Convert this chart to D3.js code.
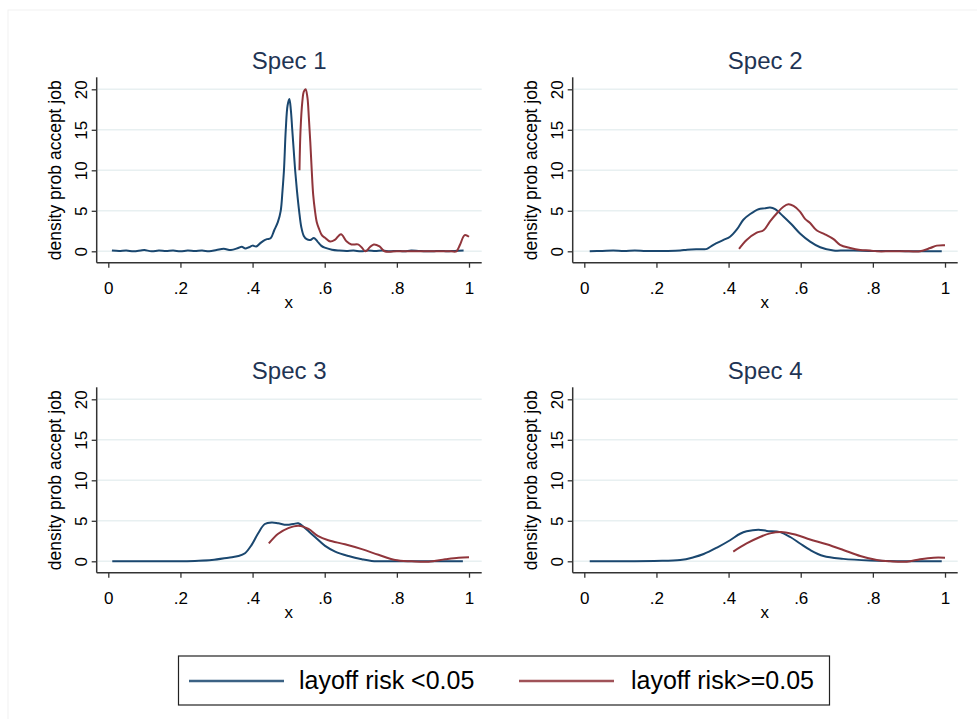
<!DOCTYPE html>
<html>
<head>
<meta charset="utf-8">
<script src="https://cdn.jsdelivr.net/npm/d3@7.9.0/dist/d3.min.js"></script>
<style>
  body { margin: 0; background: #fff; }
  svg { display: block; font-family: "Liberation Sans", Arial, sans-serif; }
</style>
</head>
<body>
<svg id="chart" width="977" height="719"></svg>
<script>
// kernel density estimates
const specTitles = ['Spec 1', 'Spec 2', 'Spec 3', 'Spec 4'];
const seriesLabels = ['layoff risk <0.05', 'layoff risk>=0.05'];
const xTicks = [0, 0.2, 0.4, 0.6, 0.8, 1];
const yTicks = [0, 5, 10, 15, 20];

const spec1LowX = [0.01,0.03,0.05,0.07,0.09,0.10,0.12,0.14,0.16,0.18,0.20,0.22,0.24,0.26,0.28,0.30,0.32,0.34,0.36,0.37,0.38,0.39,0.40,0.41,0.42,0.43,0.44,0.45,0.46,0.47,0.478,0.483,0.487,0.492,0.497,0.502,0.506,0.510,0.514,0.518,0.523,0.529,0.535,0.542,0.55,0.56,0.57,0.58,0.59,0.60,0.62,0.64,0.66,0.68,0.70,0.72,0.74,0.76,0.78,0.80,0.82,0.84,0.86,0.88,0.90,0.92,0.94,0.96,0.985];
const spec1LowY = [0.1,0.05,0.1,0.0,0.1,0.15,0.0,0.1,0.05,0.1,0.0,0.1,0.05,0.1,0.0,0.15,0.3,0.15,0.4,0.55,0.35,0.5,0.7,0.6,0.95,1.3,1.5,1.6,2.6,3.6,5.0,7.5,10.0,15.0,18.0,18.8,17.5,15.0,12.5,10.0,7.5,5.0,3.0,1.9,1.5,1.4,1.65,1.2,0.7,0.45,0.2,0.1,0.05,0.1,0.0,0.1,0.05,0.1,0.0,0.05,0.0,0.1,0.05,0.0,0.0,0.05,0.0,0.05,0.1];
const spec1HighX = [0.530,0.533,0.538,0.542,0.547,0.552,0.556,0.560,0.564,0.568,0.573,0.578,0.584,0.592,0.60,0.615,0.628,0.645,0.661,0.674,0.692,0.702,0.713,0.725,0.736,0.752,0.766,0.80,0.85,0.90,0.95,0.965,0.975,0.988,1.0];
const spec1HighY = [10,15,18.5,19.7,20,19,16.5,13.5,10,7,5,3.6,2.8,2.0,1.7,1.2,1.4,2.1,1.2,0.85,0.85,0.5,0,0.5,0.85,0.6,0,0,0,0,0,0,0.8,2.0,1.8];

const spec2LowX = [0.015,0.05,0.08,0.11,0.14,0.17,0.20,0.23,0.266,0.285,0.31,0.331,0.34,0.358,0.386,0.404,0.423,0.441,0.46,0.483,0.50,0.515,0.529,0.552,0.575,0.598,0.626,0.654,0.691,0.72,0.746,0.80,0.85,0.90,0.95,0.991];
const spec2LowY = [0,0.05,0.1,0.05,0.1,0.05,0.05,0.05,0.1,0.2,0.25,0.25,0.3,0.8,1.4,1.8,2.7,3.9,4.6,5.2,5.3,5.4,5.2,4.3,3.3,2.2,1.2,0.5,0.1,0.1,0.1,0.05,0.05,0,0,0];
const spec2HighX = [0.429,0.45,0.478,0.497,0.515,0.534,0.552,0.566,0.58,0.598,0.612,0.626,0.644,0.667,0.691,0.709,0.737,0.765,0.792,0.811,0.85,0.90,0.931,0.959,0.977,1.0];
const spec2HighY = [0.3,1.4,2.3,2.6,3.7,4.7,5.5,5.8,5.6,4.9,4.0,3.5,2.6,2.1,1.5,0.8,0.4,0.15,0.1,0,0,0,0,0.4,0.7,0.75];

const spec3LowX = [0.011,0.05,0.1,0.15,0.2,0.24,0.287,0.333,0.361,0.379,0.397,0.416,0.434,0.453,0.471,0.494,0.513,0.527,0.545,0.573,0.601,0.629,0.666,0.703,0.73,0.8,0.9,0.983];
const spec3LowY = [0,0,0,0,0,0.05,0.15,0.45,0.65,1.0,2.0,3.5,4.6,4.8,4.7,4.5,4.6,4.7,4.1,3.0,1.9,1.2,0.65,0.25,0.05,0,0,0];
const spec3HighX = [0.445,0.471,0.499,0.527,0.555,0.582,0.61,0.656,0.703,0.749,0.795,0.841,0.888,0.934,0.971,1.0];
const spec3HighY = [2.2,3.4,4.1,4.4,4.0,3.1,2.6,2.1,1.5,0.8,0.15,0,-0.05,0.25,0.45,0.5];

const spec4LowX = [0.015,0.1,0.194,0.266,0.303,0.331,0.368,0.404,0.432,0.45,0.483,0.506,0.543,0.571,0.598,0.626,0.663,0.718,0.792,0.9,0.991];
const spec4LowY = [0,0,0.05,0.15,0.5,0.9,1.7,2.6,3.4,3.7,3.9,3.75,3.6,3.0,2.2,1.4,0.65,0.3,0.1,0,0];
const spec4HighX = [0.413,0.45,0.487,0.515,0.552,0.589,0.626,0.672,0.718,0.765,0.811,0.848,0.894,0.931,0.968,1.0];
const spec4HighY = [1.2,2.2,3.0,3.45,3.6,3.25,2.7,2.1,1.4,0.65,0.15,0,-0.05,0.25,0.45,0.45];

const colors = ['#1a476f', '#90353b'];

const panels = [
  { low: [spec1LowX, spec1LowY], high: [spec1HighX, spec1HighY] },
  { low: [spec2LowX, spec2LowY], high: [spec2HighX, spec2HighY] },
  { low: [spec3LowX, spec3LowY], high: [spec3HighX, spec3HighY] },
  { low: [spec4LowX, spec4LowY], high: [spec4HighX, spec4HighY] },
];

const svg = d3.select('#chart');
svg.append('rect').attr('x', 8).attr('y', 10).attr('width', 977).attr('height', 719)
  .attr('fill', 'none').attr('stroke', '#f1f1f1');

const fmt = (d) => d === 0 ? '0' : d === 1 ? '1' : String(d).replace(/^0/, '');

panels.forEach((p, i) => {
  let ox = (i % 2) * 476;
  let oy = Math.floor(i / 2) * 310;
  let axisLeftX = 96.7, axisRightX = 481.7, axisTopY = 77.3, axisBottomY = 262.7;

  let x = d3.scaleLinear().domain([0, 1]).range([108.3, 469]);
  let y = d3.scaleLinear().domain([0, 20]).range([251.3, 89.3]);

  let g = svg.append('g').attr('transform', `translate(${ox},${oy})`);

  // gridlines
  g.selectAll('line.grid').data(yTicks).join('line')
    .attr('class', 'grid')
    .attr('x1', axisLeftX + 1).attr('x2', axisRightX)
    .attr('y1', (d) => y(d)).attr('y2', (d) => y(d))
    .attr('stroke', '#e8f0f1').attr('stroke-width', 1.5);

  // x axis
  let xa = g.append('g').attr('transform', `translate(0,${axisBottomY})`)
    .call(d3.axisBottom(x).tickValues(xTicks).tickSize(5).tickFormat(fmt));
  xa.select('.domain').remove();
  xa.selectAll('.tick line').attr('stroke', '#333').attr('stroke-width', 1.3);
  xa.selectAll('.tick text').attr('y', 31).attr('dy', null)
    .attr('font-size', 17).attr('fill', '#000').attr('font-family', 'Liberation Sans, Arial, sans-serif');
  g.append('line').attr('x1', axisLeftX).attr('x2', axisRightX)
    .attr('y1', axisBottomY).attr('y2', axisBottomY)
    .attr('stroke', '#333').attr('stroke-width', 1.5);

  // y axis
  let ya = g.append('g').attr('transform', `translate(${axisLeftX},0)`)
    .call(d3.axisLeft(y).tickValues(yTicks).tickSize(5));
  ya.select('.domain').remove();
  ya.selectAll('.tick line').attr('stroke', '#333').attr('stroke-width', 1.3);
  ya.selectAll('.tick text').attr('x', null).attr('dy', null)
    .attr('transform', 'translate(-10,0) rotate(-90)')
    .attr('text-anchor', 'middle')
    .attr('font-size', 17).attr('fill', '#000').attr('font-family', 'Liberation Sans, Arial, sans-serif');
  g.append('line').attr('x1', axisLeftX).attr('x2', axisLeftX)
    .attr('y1', axisTopY).attr('y2', axisBottomY)
    .attr('stroke', '#333').attr('stroke-width', 1.5);

  // titles
  g.append('text').attr('x', (axisLeftX + axisRightX) / 2).attr('y', 69.3)
    .attr('text-anchor', 'middle').attr('font-size', 24).attr('fill', '#1f3454')
    .text(specTitles[i]);
  g.append('text').attr('x', (x(0) + x(1)) / 2).attr('y', 308)
    .attr('text-anchor', 'middle').attr('font-size', 17).text('x');
  g.append('text')
    .attr('transform', `translate(61,${(y(0) + y(20)) / 2}) rotate(-90)`)
    .attr('text-anchor', 'middle').attr('font-size', 17.5)
    .text('density prob accept job');

  // density curves
  let line = d3.line().x((d) => x(d[0])).y((d) => y(d[1])).curve(d3.curveCatmullRom.alpha(0.5));
  [p.low, p.high].forEach((s, k) => {
    let pts = s[0].map((v, j) => [v, s[1][j]]);
    g.append('path').attr('d', line(pts))
      .attr('fill', 'none').attr('stroke', colors[k]).attr('stroke-width', 2)
      .attr('stroke-linejoin', 'round');
  });
});

// legend
let lg = svg.append('g');
lg.append('rect').attr('x', 178.5).attr('y', 656).attr('width', 651).attr('height', 49)
  .attr('fill', '#fff').attr('stroke', '#222').attr('stroke-width', 1.2);
const legendX = [189, 519];
seriesLabels.forEach((lab, k) => {
  lg.append('line').attr('x1', legendX[k]).attr('x2', legendX[k] + 95)
    .attr('y1', 681).attr('y2', 681)
    .attr('stroke', colors[k]).attr('stroke-width', 2.5).attr('opacity', 0.85);
  lg.append('text').attr('x', legendX[k] + 110 + k * 2).attr('y', 689)
    .attr('font-size', 25).attr('fill', '#000').text(lab);
});
</script>
</body>
</html>
